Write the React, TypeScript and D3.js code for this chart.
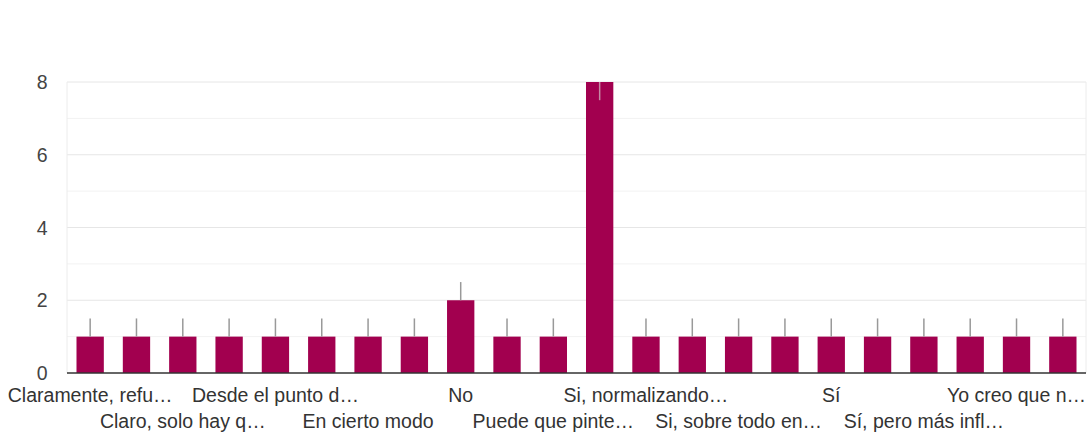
import React from "react";
import * as d3 from "d3";

const categories: string[] = [
  "Claramente, refu…",
  "Claramente, sí…",
  "Claro, solo hay q…",
  "Creo que sí…",
  "Desde el punto d…",
  "Desde luego…",
  "En cierto modo",
  "Es posible…",
  "No",
  "No lo sé",
  "Puede que pinte…",
  "Si",
  "Si, normalizando…",
  "Si, porque…",
  "Si, sobre todo en…",
  "Si, y mucho",
  "Sí",
  "Sí, claro",
  "Sí, pero más infl…",
  "Sí, sin duda",
  "Yo creo que n…",
  "Yo diría que sí",
];
const values: number[] = [1, 1, 1, 1, 1, 1, 1, 1, 2, 1, 1, 8, 1, 1, 1, 1, 1, 1, 1, 1, 1, 1];
const errorEnds: number[] = [1.5, 1.5, 1.5, 1.5, 1.5, 1.5, 1.5, 1.5, 2.5, 1.5, 1.5, 7.5, 1.5, 1.5, 1.5, 1.5, 1.5, 1.5, 1.5, 1.5, 1.5, 1.5];
const yTicks: number[] = [0, 2, 4, 6, 8];
const yGrid: number[] = [1, 2, 3, 4, 5, 6, 7, 8];

const W = 1090;
const H = 432;
const left = 67;
const right = 1086;
const top = 82;
const bottom = 373;
const barColor = "#a2004f";
const font = "'Liberation Sans', Arial, sans-serif";

export default function App() {
  const x = d3
    .scaleBand<string>()
    .domain(categories)
    .range([left, right])
    .paddingInner(0.41)
    .paddingOuter(0.205);
  const y = d3.scaleLinear().domain([0, 8]).range([bottom, top]);

  return (
    <svg
      width={W}
      height={H}
      style={{ position: "absolute", left: 0, top: 0, background: "#fff" }}
    >
      <rect x={0} y={0} width={W} height={H} fill="#fff" />
      {yGrid.map((g) => (
        <line
          key={"g" + g}
          x1={left}
          x2={right}
          y1={y(g)}
          y2={y(g)}
          stroke={g % 2 === 0 ? "#e6e6e6" : "#f2f2f2"}
          strokeWidth={1}
        />
      ))}
      <line x1={left} x2={left} y1={top} y2={bottom} stroke="#ececec" />
      <line x1={right} x2={right} y1={top} y2={bottom} stroke="#ececec" />
      {yTicks.map((t) => (
        <text
          key={"t" + t}
          x={47.5}
          y={y(t)}
          dy="0.36em"
          textAnchor="end"
          fontFamily={font}
          fontSize={19.5}
          fill="#444"
        >
          {t}
        </text>
      ))}
      {categories.map((c, i) => {
        const bx = x(c) as number;
        const bw = x.bandwidth();
        const cx = bx + bw / 2;
        return (
          <g key={"b" + i}>
            <rect
              x={bx}
              y={y(values[i])}
              width={bw}
              height={y(0) - y(values[i])}
              fill={barColor}
            />
            <line
              x1={cx}
              x2={cx}
              y1={y(values[i])}
              y2={y(errorEnds[i])}
              stroke={errorEnds[i] < values[i] ? "#c48aa5" : "#999"}
              strokeWidth={1.5}
            />
          </g>
        );
      })}
      <line x1={left} x2={right} y1={bottom} y2={bottom} stroke="#333" strokeWidth={1.5} />
      {categories.map((c, i) => {
        if (i % 2 !== 0) return null;
        const cx = (x(c) as number) + x.bandwidth() / 2;
        const row = (i / 2) % 2;
        return (
          <text
            key={"l" + i}
            x={cx}
            y={row === 0 ? 402 : 428}
            textAnchor="middle"
            fontFamily={font}
            fontSize={19.5}
            fill="#333"
          >
            {c}
          </text>
        );
      })}
    </svg>
  );
}
